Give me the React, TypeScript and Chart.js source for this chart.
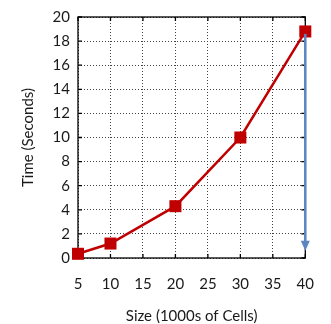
import React, { useEffect, useRef } from "react";
import { Chart, registerables } from "chart.js";

Chart.register(...registerables);

const sizes = [5, 10, 20, 30, 40];
const times = [0.35, 1.2, 4.3, 10, 18.8];
const xTicks = [5, 10, 15, 20, 25, 30, 35, 40];
const yTicks = [0, 2, 4, 6, 8, 10, 12, 14, 16, 18, 20];
const arrowX = 40;
const arrowFrom = 18.6;
const arrowTo = 0.6;

const FONT = "Lato, 'Open Sans', sans-serif";
const TEXT = "#1a1a1a";

const framePlugin = {
  id: "frame",
  afterDatasetsDraw(chart: any) {
    const { ctx, scales } = chart;
    const x = scales.x, y = scales.y;
    ctx.save();
    const ax = x.getPixelForValue(arrowX);
    const y1 = y.getPixelForValue(arrowFrom);
    const y2 = y.getPixelForValue(arrowTo);
    ctx.strokeStyle = "#5b86c2";
    ctx.fillStyle = "#5b86c2";
    ctx.lineWidth = 2.5;
    ctx.beginPath();
    ctx.moveTo(ax, y1);
    ctx.lineTo(ax, y2 - 8);
    ctx.stroke();
    ctx.beginPath();
    ctx.moveTo(ax - 4.5, y2 - 10);
    ctx.lineTo(ax + 4.5, y2 - 10);
    ctx.lineTo(ax, y2);
    ctx.closePath();
    ctx.fill();
    ctx.restore();
  },
  beforeDatasetsDraw(chart: any) {
    const { ctx, chartArea: a, scales } = chart;
    const x = scales.x, y = scales.y;
    ctx.save();
    ctx.strokeStyle = "#000";
    ctx.lineWidth = 1.3;
    ctx.strokeRect(a.left, a.top, a.right - a.left, a.bottom - a.top);
    const t = 4;
    ctx.beginPath();
    for (const v of xTicks) {
      const px = x.getPixelForValue(v);
      ctx.moveTo(px, a.bottom); ctx.lineTo(px, a.bottom - t);
      ctx.moveTo(px, a.top); ctx.lineTo(px, a.top + t);
    }
    for (const v of yTicks) {
      const py = y.getPixelForValue(v);
      ctx.moveTo(a.left, py); ctx.lineTo(a.left + t, py);
      ctx.moveTo(a.right, py); ctx.lineTo(a.right - t, py);
    }
    ctx.stroke();
    ctx.restore();
  },
};

export default function App() {
  const ref = useRef<HTMLCanvasElement>(null);
  useEffect(() => {
    const chart = new Chart(ref.current!, {
      type: "line",
      data: {
        datasets: [
          {
            data: sizes.map((s, i) => ({ x: s, y: times[i] })),
            borderColor: "#c00000",
            backgroundColor: "#c00000",
            borderWidth: 2.5,
            pointStyle: "rect",
            pointRadius: 8.5,
            pointBorderWidth: 0,
            pointHoverRadius: 8.5,
            clip: false,
          },
        ],
      },
      options: {
        animation: false,
        responsive: false,
        layout: { padding: { top: 12, right: 11, left: 0, bottom: 0 } },
        plugins: { legend: { display: false }, tooltip: { enabled: false } },
        scales: {
          x: {
            type: "linear",
            min: 5,
            max: 40,
            afterBuildTicks: (s: any) => { s.ticks = xTicks.map((v) => ({ value: v })); },
            afterFit: (s: any) => { s.height = 66; },
            border: { display: false, dash: [1, 2] },
            grid: { color: "#444", lineWidth: 1, drawTicks: false },
            ticks: { color: TEXT, font: { family: FONT, size: 15 }, padding: 17, maxRotation: 0 },
            title: { display: true, text: "Size (1000s of Cells)", color: TEXT, font: { family: FONT, size: 15 }, padding: { top: 4, bottom: -1 } },
          },
          y: {
            type: "linear",
            min: 0,
            max: 20,
            afterBuildTicks: (s: any) => { s.ticks = yTicks.map((v) => ({ value: v })); },
            afterFit: (s: any) => { s.width = 78; },
            border: { display: false, dash: [1, 2] },
            grid: { color: "#444", lineWidth: 1, drawTicks: false },
            ticks: { color: TEXT, font: { family: FONT, size: 15 }, padding: 8 },
            title: { display: true, text: "Time (Seconds)", color: TEXT, font: { family: FONT, size: 15 }, padding: { top: 19, bottom: 4 } },
          },
        },
      },
      plugins: [framePlugin],
    } as any);
    return () => chart.destroy();
  }, []);
  return (
    <div style={{ position: "fixed", left: 0, top: 0, width: 331, height: 324, background: "#fff" }}>
      <canvas ref={ref} width={331} height={324} style={{ display: "block" }} />
    </div>
  );
}
